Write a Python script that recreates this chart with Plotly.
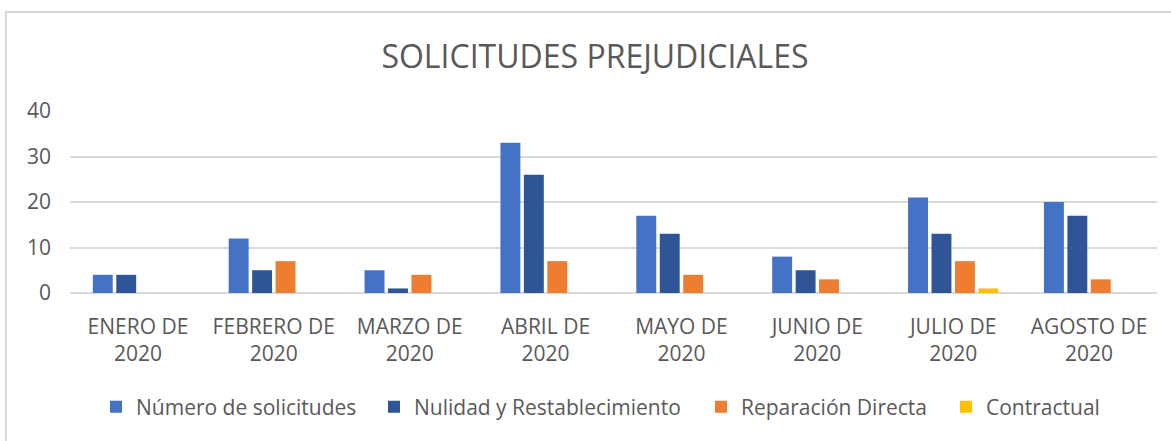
import plotly.graph_objects as go

categories = ["ENERO DE<br>2020", "FEBRERO DE<br>2020", "MARZO DE<br>2020", "ABRIL DE<br>2020",
              "MAYO DE<br>2020", "JUNIO DE<br>2020", "JULIO DE<br>2020", "AGOSTO DE<br>2020"]
numero = [4, 12, 5, 33, 17, 8, 21, 20]
nulidad = [4, 5, 1, 26, 13, 5, 13, 17]
reparacion = [0, 7, 4, 7, 4, 3, 7, 3]
contractual = [0, 0, 0, 0, 0, 0, 1, 0]

series = [
    ("Número de solicitudes", numero, "#4472C4"),
    ("Nulidad y Restablecimiento", nulidad, "#2F5597"),
    ("Reparación Directa", reparacion, "#ED7D31"),
    ("Contractual", contractual, "#FFC000"),
]

FONT = "Open Sans"
TXT = "#595959"

W, H = 1171, 441
L, R, T, B = 70, 14, 111, 148
pw = W - L - R
ph = H - T - B

# legend symbol centres (px)
legend_centres = [116, 394, 721, 966]
legend_y = (ph - (407 - T)) / ph

fig = go.Figure()
legend_layouts = {}
for i, (name, vals, col) in enumerate(series):
    key = "legend" if i == 0 else f"legend{i + 1}"
    fig.add_trace(go.Bar(x=categories, y=vals, name=name, legend=key,
                         marker=dict(color=col, line=dict(width=0))))
    legend_layouts[key] = dict(
        orientation="h", x=(legend_centres[i] - 20 - L) / pw, xanchor="left",
        y=legend_y, yanchor="middle", bgcolor="rgba(0,0,0,0)",
        font=dict(family=FONT, size=21, color=TXT), itemwidth=30)

fig.update_layout(
    width=W, height=H,
    margin=dict(l=L, r=R, t=T, b=B),
    paper_bgcolor="white", plot_bgcolor="white",
    barmode="group", bargap=0.31, bargroupgap=0.15,
    font=dict(family=FONT, color=TXT, size=20),
    title=dict(text="SOLICITUDES PREJUDICIALES", x=595 / W, xanchor="center",
               y=1 - 57 / H, yanchor="middle", yref="container",
               font=dict(family=FONT, size=32, color=TXT)),
    showlegend=True,
    xaxis=dict(showgrid=False, showline=False, ticks="", tickfont=dict(size=21, color=TXT),
               ticklabelstandoff=19),
    yaxis=dict(range=[0, 40], dtick=10, showgrid=True, gridcolor="#D9D9D9", gridwidth=2,
               zeroline=True, zerolinecolor="#D9D9D9", zerolinewidth=2,
               showline=False, ticks="", tickfont=dict(size=21, color=TXT),
               ticklabelstandoff=18),
    shapes=[dict(type="rect", xref="paper", yref="paper",
                 x0=(6 - L) / pw, x1=(W + 20 - L) / pw,
                 y0=(ph - (H + 20 - T)) / ph, y1=(ph - (12 - T)) / ph,
                 line=dict(color="#D9D9D9", width=2), fillcolor="rgba(0,0,0,0)", layer="below")],
    **legend_layouts,
)

fig.write_html("out.html", config={"displayModeBar": False},
               post_script="document.body.style.margin='0';document.body.style.overflow='hidden';")
